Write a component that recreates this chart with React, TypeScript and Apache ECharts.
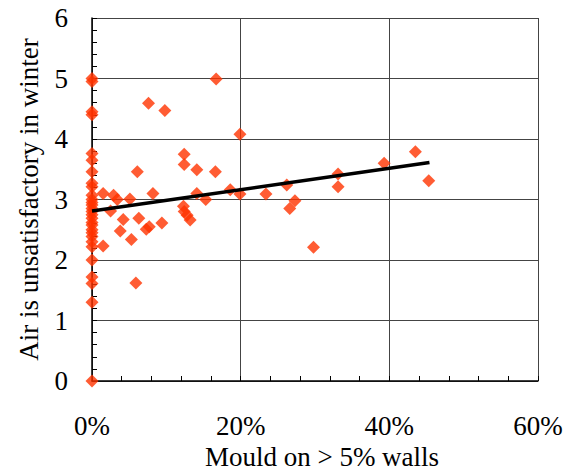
import React, { useEffect, useRef } from "react";
import * as echarts from "echarts";

// Mould on > 5% walls (%), one entry per survey point
const mouldPct = [
  0, 0, 0, 0, 0, 0, 0, 0, 0, 0, 0, 0, 0, 0, 0, 0, 0, 0, 0, 0, 0, 0, 0, 0, 0, 0, 0, 0, 0,
  1.5, 2.9, 3.4, 2.5, 5.1, 8.2, 6.1, 4.2, 6.3, 3.8, 7.3, 7.7, 9.4, 5.3, 1.5, 5.9,
  7.6, 9.8, 16.7, 19.9, 12.4, 12.4, 14.1, 16.6, 14.1, 15.3, 18.6, 19.9, 23.4,
  12.3, 12.4, 12.8, 13.2, 26.2, 27.3, 26.6, 29.8, 33.1, 33.1, 39.3, 43.5, 45.3,
];
// Air is unsatisfactory in winter (score)
const airScore = [
  0, 1.3, 1.61, 1.72, 2.0, 2.22, 2.3, 2.39, 2.45, 2.5, 2.58, 2.62, 2.69, 2.75, 2.8, 2.85,
  2.91, 2.95, 3.0, 3.07, 3.21, 3.27, 3.46, 3.65, 3.76, 4.4, 4.45, 4.95, 5.0,
  3.1, 3.07, 3.0, 2.81, 3.01, 3.1, 3.46, 2.67, 2.69, 2.48, 2.51, 2.55, 2.61, 2.34, 2.23, 1.62,
  4.59, 4.47, 4.99, 4.08, 3.75, 3.58, 3.49, 3.46, 3.1, 3.0, 3.16, 3.09, 3.09,
  2.89, 2.8, 2.74, 2.66, 3.24, 2.98, 2.85, 2.21, 3.42, 3.21, 3.6, 3.79, 3.31,
];
// Linear trend line end points
const trendX = [0, 45.4];
const trendY = [2.81, 3.61];

export default function App() {
  const ref = useRef<HTMLDivElement>(null);
  useEffect(() => {
    if (!ref.current) return;
    const chart = echarts.init(ref.current, undefined, { renderer: "svg" });
    const font = "Liberation Serif";
    const gridColor = "#444";
    chart.setOption({
      animation: false,
      textStyle: { fontFamily: font },
      grid: {
        left: 92,
        right: 25,
        top: 18,
        bottom: 89,
        containLabel: false,
        outerBoundsMode: "none",
      },
      xAxis: {
        type: "value",
        min: 0,
        max: 60,
        interval: 20,
        name: "Mould on > 5% walls",
        nameLocation: "middle",
        nameGap: 59,
        nameTextStyle: {
          fontFamily: font,
          fontSize: 27,
          lineHeight: 24,
          color: "#000",
          padding: [0, 0, 0, 14],
        },
        axisLine: { show: true, lineStyle: { color: "#000", width: 1.5 } },
        axisTick: { show: true, inside: true, length: 5, lineStyle: { color: "#000" } },
        minorTick: { show: true, splitNumber: 5, length: 5, lineStyle: { color: "#000", width: 1 } },
        axisLabel: {
          formatter: "{value}%",
          fontFamily: font,
          fontSize: 27,
          color: "#000",
          margin: 31,
          showMaxLabel: true,
        },
        splitLine: { show: true, lineStyle: { color: gridColor, width: 1 } },
      },
      yAxis: {
        type: "value",
        min: 0,
        max: 6,
        interval: 1,
        name: "Air is unsatisfactory in winter",
        nameLocation: "middle",
        nameGap: 50,
        nameTextStyle: { fontFamily: font, fontSize: 27, color: "#000" },
        axisLine: { show: true, lineStyle: { color: "#000", width: 1.5 } },
        axisTick: { show: true, inside: true, length: 5, lineStyle: { color: "#000" } },
        minorTick: { show: true, splitNumber: 5, length: 5, lineStyle: { color: "#000", width: 1 } },
        axisLabel: { fontFamily: font, fontSize: 27, color: "#000", margin: 24 },
        splitLine: { show: true, lineStyle: { color: gridColor, width: 1 } },
      },
      series: [
        {
          type: "scatter",
          symbol: "diamond",
          symbolSize: 13,
          itemStyle: { color: "#ff3300" },
          data: mouldPct.map((x, i) => [x, airScore[i]]),
          z: 2,
        },
        {
          type: "line",
          data: trendX.map((x, i) => [x, trendY[i]]),
          showSymbol: false,
          symbol: "none",
          lineStyle: { color: "#000", width: 3.5 },
          z: 3,
        },
      ],
    });
    return () => chart.dispose();
  }, []);
  return (
    <div
      ref={ref}
      style={{ position: "fixed", left: 0, top: 0, width: 563, height: 470, background: "#fff" }}
    />
  );
}
